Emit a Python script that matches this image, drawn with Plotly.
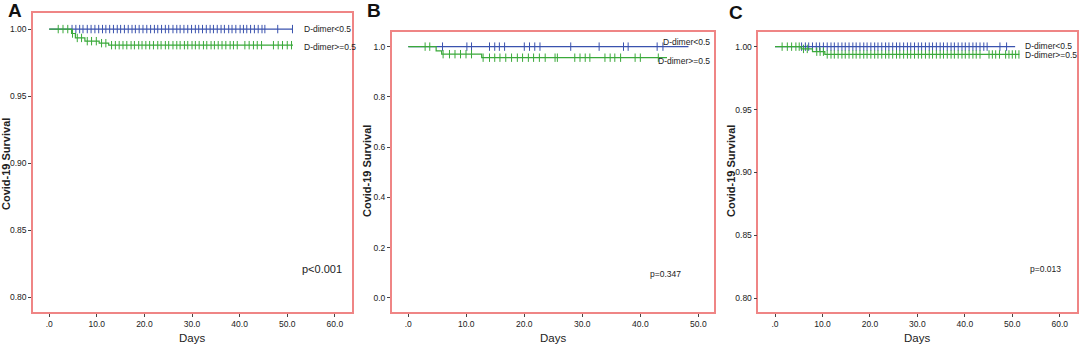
import plotly.graph_objects as go

# ---------------- data ----------------
# Panel A
A_blue_end = 51.2
A_blue_drop_days = []
A_blue_levels = []
A_blue_censor = [4.8, 5.6, 6.4, 7.1, 8.0, 8.8, 9.6, 10.4, 11.2, 11.9, 12.7, 13.5, 14.3, 15.0,
                 15.8, 16.6, 17.4, 18.1, 18.9, 19.7, 20.5, 21.3, 22.1, 22.8, 23.6, 24.4, 25.1,
                 26.0, 26.8, 27.5, 28.3, 29.1, 29.9, 30.7, 31.4, 32.2, 33.0, 33.8, 34.5, 35.3,
                 36.1, 36.8, 37.7, 38.4, 39.2, 40.1, 40.8, 41.5, 42.3, 43.1, 43.9, 44.7, 45.3,
                 48.0, 51.1]
A_green_end = 51.2
A_green_drop_days = [4.7, 5.5, 7.5, 10.5, 12.5]
A_green_levels = [0.9967, 0.9934, 0.9910, 0.9895, 0.9880]
A_green_censor = [1.9, 2.9, 3.9, 4.9, 5.9, 6.8, 8.0, 8.9, 9.9, 11.0, 11.9,
                  13.1, 13.9, 14.7, 15.5, 16.3, 17.2, 17.9, 18.8, 19.5, 20.3, 21.1, 21.9,
                  22.8, 23.5, 24.4, 25.1, 26.0, 26.8, 27.5, 28.4, 29.1, 30.0, 30.7, 31.5,
                  32.4, 33.1, 34.0, 34.7, 35.5, 36.3, 37.1, 38.0, 38.7, 39.5, 41.1, 42.0,
                  42.9, 43.7, 44.6, 47.1, 48.1, 49.0, 50.0, 50.9]

# Panel B
B_blue_end = 48.3
B_blue_drop_days = []
B_blue_levels = []
B_blue_censor = [5.9, 10.1, 10.9, 14.0, 14.9, 15.7, 16.6, 20.0, 20.9, 21.8, 22.7,
                 28.0, 32.9, 37.1, 37.9, 42.9, 43.9]
B_green_end = 44.6
B_green_drop_days = [4.8, 5.75, 12.65]
B_green_levels = [0.983, 0.970, 0.956]
B_green_censor = [2.9, 3.7, 6.0, 7.1, 8.05, 9.0, 9.95, 10.9,
                  12.9, 14.0, 14.9, 15.8, 16.8, 17.8, 18.8, 19.7, 20.7, 21.6, 22.6, 23.6,
                  25.3, 25.7, 28.7, 29.6, 30.5, 31.3, 33.9, 34.8, 35.6, 36.6, 39.1, 40.0, 43.1]

# Panel C
C_blue_end = 50.6
C_blue_drop_days = []
C_blue_levels = []
C_blue_censor = [5.6, 6.4, 7.1, 7.9, 8.7, 9.4, 10.2, 11.0, 11.8, 12.5, 13.3, 14.1, 14.8,
                 15.6, 16.4, 17.1, 17.9, 18.7, 19.4, 20.2, 21.0, 21.7, 22.5, 23.3, 24.0,
                 24.8, 25.6, 26.3, 27.1, 27.9, 28.6, 29.4, 30.2, 30.9, 31.7, 32.5, 33.2,
                 34.0, 34.8, 35.5, 36.3, 37.1, 37.8, 38.6, 39.4, 40.1, 40.9, 41.7, 42.4,
                 43.2, 44.0, 44.7, 47.4, 48.8]
C_green_end = 51.5
C_green_drop_days = [5.5, 7.9, 10.5]
C_green_levels = [0.9982, 0.9960, 0.9938]
C_green_censor = [1.5, 2.6, 3.5, 4.4, 5.1, 6.0, 6.8, 8.8, 9.5, 10.2,
                  11.0, 11.8, 12.5, 13.3, 14.1, 14.8, 15.6, 16.4, 17.1, 17.9, 18.7, 19.4,
                  20.2, 21.0, 21.7, 22.5, 23.3, 24.0, 24.8, 25.6, 26.3, 27.1, 27.9, 28.6,
                  29.4, 30.2, 30.9, 31.7, 32.5, 33.2, 34.0, 34.8, 35.5, 36.3, 37.1, 37.8,
                  38.6, 39.4, 40.1, 40.9, 41.7, 42.4, 43.2, 45.1, 45.8, 46.5, 47.3, 48.6,
                  49.3, 50.0, 50.7, 51.4]

group_labels = ["D-dimer<0.5", "D-dimer>=0.5"]
p_values = ["p<0.001", "p=0.347", "p=0.013"]
panel_letters = ["A", "B", "C"]
A_yticks = [0.80, 0.85, 0.90, 0.95, 1.00]
A_yticktext = ["0.80", "0.85", "0.90", "0.95", "1.00"]
B_yticks = [0.0, 0.2, 0.4, 0.6, 0.8, 1.0]
B_yticktext = ["0.0", "0.2", "0.4", "0.6", "0.8", "1.0"]
AC_xticks = [0, 10, 20, 30, 40, 50, 60]
AC_xticktext = [".0", "10.0", "20.0", "30.0", "40.0", "50.0", "60.0"]
B_xticks = [0, 10, 20, 30, 40, 50]
B_xticktext = [".0", "10.0", "20.0", "30.0", "40.0", "50.0"]

# ---------------- styling ----------------
W, H = 1079, 346
BLUE = "#3a52ae"
GREEN = "#3aa93a"
FRAME = "#ef8585"
TXT = "#222222"
FONT = "Liberation Sans Narrow, Liberation Sans, Arial"


def px(x):
    return x / W


def py(y):
    return 1 - y / H


def km_path(drop_days, levels, end):
    xs, ys = [0.0], [1.0]
    for d, l in zip(drop_days, levels):
        xs.append(d)
        ys.append(l)
    xs.append(end)
    ys.append(ys[-1])
    return xs, ys


def level_at(t, drop_days, levels):
    v = 1.0
    for d, l in zip(drop_days, levels):
        if t >= d:
            v = l
    return v


fig = go.Figure()

panels = [
    dict(ax="", blue=(A_blue_drop_days, A_blue_levels, A_blue_end, A_blue_censor),
         green=(A_green_drop_days, A_green_levels, A_green_end, A_green_censor)),
    dict(ax="2", blue=(B_blue_drop_days, B_blue_levels, B_blue_end, B_blue_censor),
         green=(B_green_drop_days, B_green_levels, B_green_end, B_green_censor)),
    dict(ax="3", blue=(C_blue_drop_days, C_blue_levels, C_blue_end, C_blue_censor),
         green=(C_green_drop_days, C_green_levels, C_green_end, C_green_censor)),
]

for p in panels:
    for key, col in (("blue", BLUE), ("green", GREEN)):
        dd, lv, end, cens = p[key]
        xs, ys = km_path(dd, lv, end)
        fig.add_trace(go.Scatter(x=xs, y=ys, mode="lines", line=dict(color=col, width=1.2, shape="hv"),
                                 xaxis="x" + p["ax"], yaxis="y" + p["ax"], showlegend=False,
                                 hoverinfo="skip"))
        fig.add_trace(go.Scatter(x=cens, y=[level_at(t, dd, lv) for t in cens], mode="markers",
                                 marker=dict(symbol="line-ns", size=6, line=dict(color=col, width=1)),
                                 xaxis="x" + p["ax"], yaxis="y" + p["ax"], showlegend=False,
                                 hoverinfo="skip"))

axis_common = dict(showline=True, mirror=True, linecolor=FRAME, linewidth=1.5, showgrid=False,
                   zeroline=False, ticks="outside", ticklen=3, tickcolor="#444", tickwidth=1,
                   tickfont=dict(family=FONT, size=8.5, color=TXT))

fig.update_layout(
    width=W, height=H, margin=dict(l=0, r=0, t=0, b=0),
    paper_bgcolor="white", plot_bgcolor="white",
    xaxis=dict(domain=[px(33), px(352)], range=[-3.4, 63.6], tickvals=AC_xticks, ticktext=AC_xticktext,
               anchor="y", **axis_common),
    yaxis=dict(domain=[py(312), py(13)], range=[0.789, 1.012], tickvals=A_yticks, ticktext=A_yticktext,
               anchor="x", **axis_common),
    xaxis2=dict(domain=[px(391.7), px(714)], range=[-2.86, 52.7], tickvals=B_xticks, ticktext=B_xticktext,
                anchor="y2", **axis_common),
    yaxis2=dict(domain=[py(312.3), py(32.3)], range=[-0.057, 1.057], tickvals=B_yticks, ticktext=B_yticktext,
                anchor="x2", **axis_common),
    xaxis3=dict(domain=[px(758.3), px(1077.3)], range=[-3.52, 63.7], tickvals=AC_xticks, ticktext=AC_xticktext,
                anchor="y3", **axis_common),
    yaxis3=dict(domain=[py(312.3), py(32.3)], range=[0.7889, 1.0114], tickvals=A_yticks, ticktext=A_yticktext,
                anchor="x3", **axis_common),
)


def note(text, x, y, size, xanchor="center", family=FONT, angle=0, color=TXT):
    return dict(text=text, x=px(x), y=py(y), xref="paper", yref="paper", showarrow=False,
                xanchor=xanchor, yanchor="middle", textangle=angle,
                font=dict(family=family, size=size, color=color))


ann = []
# panel letters
for letter, (x, y) in zip(panel_letters, [(15, 11), (374, 11), (736, 12.5)]):
    ann.append(note("<b>%s</b>" % letter, x, y, 19, family="Liberation Sans, Arial", color="#111"))
# axis titles
for (xt, yt) in [((192, 338), (6, 164)), ((553, 338), (367, 171)), ((917, 338), (731, 171))]:
    ann.append(note("Days", xt[0], xt[1], 11.5))
    ann.append(note("<b>Covid-19 Survival</b>", yt[0], yt[1], 11, family="Liberation Sans, Arial", angle=-90))
# group labels
label_pos = [
    [(302, 29, "left"), (302, 47, "left")],
    [(712, 41.5, "right"), (712, 61, "right")],
    [(1023, 46, "left"), (1023, 55.5, "left")],
]
for lp in label_pos:
    for lab, (x, y, anc) in zip(group_labels, lp):
        ann.append(note(lab, x, y, 8.5, xanchor=anc))
# p-values
for pv, (x, y, s) in zip(p_values, [(300, 269, 11), (648, 274, 8.5), (1028, 269, 8.5)]):
    ann.append(note(pv, x, y, s, xanchor="left"))

fig.update_layout(annotations=ann)
fig.write_html("out.html", config={"displayModeBar": False})

# remove the default page margin so the figure sits at the window's top-left corner
with open("out.html", "r", encoding="utf-8") as f:
    html = f.read()
html = html.replace("<head>", "<head><style>html,body{margin:0;padding:0;overflow:hidden}</style>", 1)
with open("out.html", "w", encoding="utf-8") as f:
    f.write(html)
